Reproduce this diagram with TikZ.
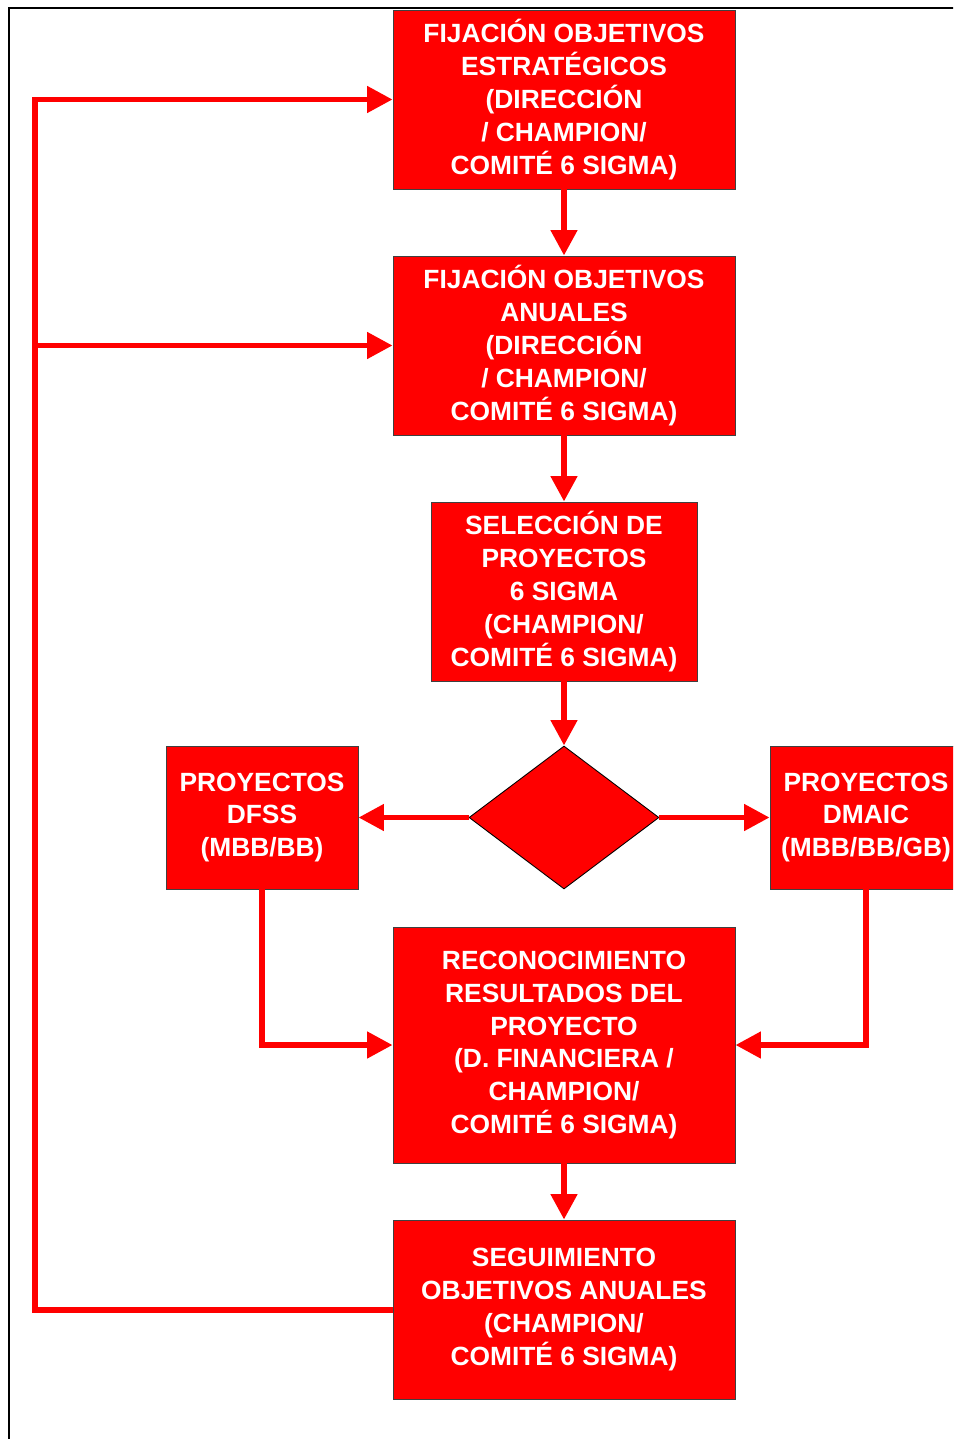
\documentclass[tikz,border=0pt]{standalone}
\usepackage{fontspec}
\setmainfont{Liberation Sans}
\usetikzlibrary{arrows.meta,shapes.geometric}

\tikzset{
  caja/.style={draw=black!75,line width=0.5pt,fill=red,text=white,
    font=\bfseries\fontsize{15}{18.7}\selectfont,align=center,inner sep=0pt},
  flecha/.style={red,line width=3.4pt,
    -{Triangle[length=14.5pt,width=14.5pt]}}
}

\begin{document}
\begin{tikzpicture}[x=0.02cm,y=-0.02cm]

\useasboundingbox (0,0) rectangle (953,1439);
\clip (0,0) rectangle (953,1439);

% marco
\draw[line width=1.1pt] (9,8) rectangle (990,1470);

\node[caja,minimum width=6.84cm,minimum height=3.58cm] (obj) at (564,99.5) {FIJACIÓN OBJETIVOS\\ESTRATÉGICOS\\(DIRECCIÓN\\/ CHAMPION/\\COMITÉ 6 SIGMA)};
\node[caja,minimum width=6.84cm,minimum height=3.58cm] (anu) at (564,345.5) {FIJACIÓN OBJETIVOS\\ANUALES\\(DIRECCIÓN\\/ CHAMPION/\\COMITÉ 6 SIGMA)};
\node[caja,minimum width=5.32cm,minimum height=3.58cm] (sel) at (564,591.5) {SELECCIÓN DE\\PROYECTOS\\6 SIGMA\\(CHAMPION/\\COMITÉ 6 SIGMA)};
\node[diamond,draw=black,line width=0.5pt,fill=red,inner sep=0pt,minimum width=3.8cm,minimum height=2.86cm] (dec) at (564,817.5) {};
\node[caja,minimum width=3.84cm,minimum height=2.86cm] (dfss) at (262,817.5) {PROYECTOS\\DFSS\\(MBB/BB)};
\node[caja,minimum width=3.84cm,minimum height=2.86cm] (dmaic) at (866,817.5) {PROYECTOS\\DMAIC\\(MBB/BB/GB)};
\node[caja,minimum width=6.84cm,minimum height=4.72cm] (rec) at (564,1045) {RECONOCIMIENTO\\RESULTADOS DEL\\PROYECTO\\(D. FINANCIERA /\\CHAMPION/\\COMITÉ 6 SIGMA)};
\node[caja,minimum width=6.84cm,minimum height=3.58cm] (seg) at (564,1309.5) {SEGUIMIENTO\\OBJETIVOS ANUALES\\(CHAMPION/\\COMITÉ 6 SIGMA)};

\coordinate (retA) at (35,99.5);
\coordinate (retB) at (35,345.5);

\draw[flecha] (obj) -- (anu);
\draw[flecha] (anu) -- (sel);
\draw[flecha] (sel) -- (dec);
\draw[flecha] (dec) -- (dfss);
\draw[flecha] (dec) -- (dmaic);
\draw[flecha] (rec) -- (seg);

\draw[flecha] (dfss) |- (rec);
\draw[flecha] (dmaic) |- (rec);

% retorno
\draw[flecha] (seg.west) -| (retA) -- (obj.west);
\draw[flecha] (retB) -- (anu.west);

\end{tikzpicture}
\end{document}
